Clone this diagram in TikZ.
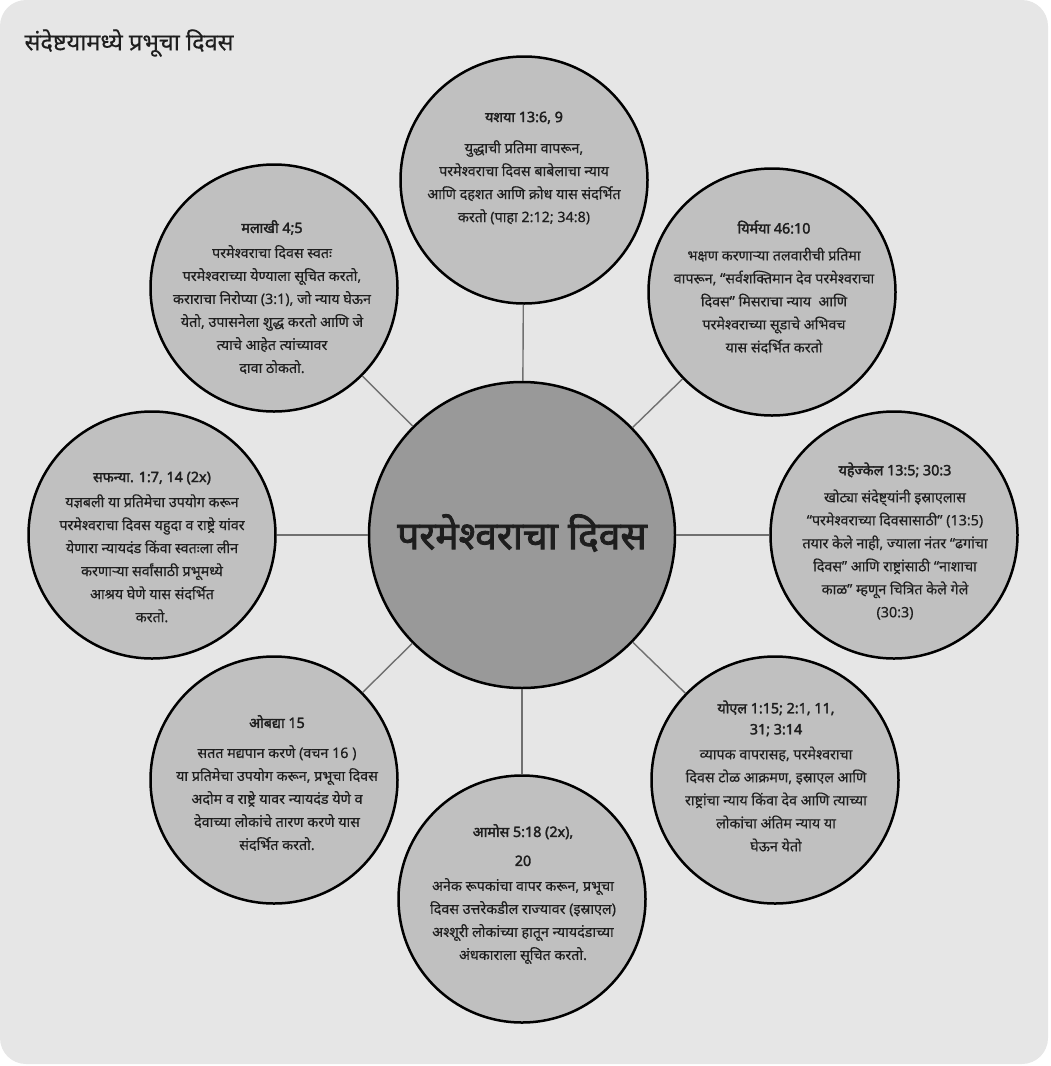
\documentclass[tikz,border=0pt]{standalone}
\usepackage{fontspec}
\setmainfont[Script=Devanagari, UprightFeatures={FakeBold=0.35}, BoldFont={Noto Sans}, BoldFeatures={FakeBold=2.2}]{Noto Sans}
\usetikzlibrary{positioning}

\definecolor{sfondo}{HTML}{E6E6E6}
\definecolor{grigiochiaro}{HTML}{C0C0C0}
\definecolor{grigioscuro}{HTML}{999999}
\definecolor{linea}{HTML}{707070}
\definecolor{inchiostro}{HTML}{1E1E1E}

\begin{document}
\begin{tikzpicture}[
    x=1pt, y=-1pt,
    font=\fontsize{14.3}{23}\selectfont,
    % Stili dei cerchi
    satellite/.style={circle, draw=black, line width=2.5pt, fill=grigiochiaro, minimum size=247pt, inner sep=0pt},
    nucleo/.style={circle, draw=black, line width=2.5pt, fill=grigioscuro, minimum size=306pt, inner sep=0pt},
    corpo/.style={align=center, text=inchiostro, inner sep=0pt},
    raggio/.style={draw=linea, line width=1.4pt}
  ]

  % Sfondo
  \useasboundingbox (0,0) rectangle (1050,1066);
  \fill[sfondo, rounded corners=26pt] (0,0) rectangle (1048,1064);

  % Titolo
  \node (titolo) [anchor=west, text=inchiostro, font=\fontsize{23.5}{26}\selectfont] at (21,43) {संदेष्टयामध्ये प्रभूचा दिवस};

  % Cerchi
  \node (centro) [nucleo] at (522,535) {};
  \node (isaia) [satellite] at (524,180) {};
  \node (geremia) [satellite] at (772,292) {};
  \node (ezechiele) [satellite] at (894,535) {};
  \node (gioele) [satellite] at (775,780) {};
  \node (amos) [satellite] at (522,899) {};
  \node (abdia) [satellite] at (274,780) {};
  \node (sofonia) [satellite] at (152,535) {};
  \node (malachia) [satellite] at (274,288) {};

  % Collegamenti
  \foreach \c in {isaia, geremia, ezechiele, gioele, amos, abdia, sofonia, malachia}
    \draw [raggio] (centro) -- (\c);

  % Testi
  \node (centro_t) [corpo, font=\bfseries\fontsize{39}{40}\selectfont] at (522,533) {परमेश्वराचा दिवस};

  \node (isaia_t) [corpo] at (524,168) {{\bfseries यशया 13:6, 9}\\[8pt]
    युद्धाची प्रतिमा वापरून,\\
    परमेश्वराचा दिवस बाबेलाचा न्याय\\
    आणि दहशत आणि क्रोध यास संदर्भित\\
    करतो (पाहा 2:12; 34:8)};

  \node (geremia_t) [corpo] at (774,287) {{\bfseries यिर्मया 46:10}\\[4pt]
    भक्षण करणाऱ्या तलवारीची प्रतिमा\\
    वापरून, “सर्वशक्तिमान देव परमेश्वराचा\\
    दिवस” मिसराचा न्याय\ \ आणि\\
    परमेश्वराच्या सूडाचे अभिवच\\
    यास संदर्भित करतो};

  \node (malachia_t) [corpo] at (272,297) {{\bfseries मलाखी 4;5}\\[2pt]
    परमेश्वराचा दिवस स्वतः\\
    परमेश्वराच्या येण्याला सूचित करतो,\\
    कराराचा निरोप्या (3:1), जो न्याय घेऊन\\
    येतो, उपासनेला शुद्ध करतो आणि जे\\
    त्याचे आहेत त्यांच्यावर\\
    दावा ठोकतो.};

  \node (sofonia_t) [corpo] at (152,547) {{\bfseries सफन्या. 1:7, 14 (2x)}\\[2pt]
    यज्ञबली या प्रतिमेचा उपयोग करून\\
    परमेश्वराचा दिवस यहुदा व राष्ट्रे यांवर\\
    येणारा न्यायदंड किंवा स्वतःला लीन\\
    करणाऱ्या सर्वांसाठी प्रभूमध्ये\\
    आश्रय घेणे यास संदर्भित\\
    करतो.};

  \node (ezechiele_t) [corpo] at (895,541) {{\bfseries यहेज्केल 13:5; 30:3}\\[4pt]
    खोट्या संदेष्ट्यांनी इस्राएलास\\
    “परमेश्वराच्या दिवसासाठी” (13:5)\\
    तयार केले नाही, ज्याला नंतर “ढगांचा\\
    दिवस” आणि राष्ट्रांसाठी “नाशाचा\\
    काळ” म्हणून चित्रित केले गेले\\
    (30:3)};

  \node (abdia_t) [corpo] at (277,783) {{\bfseries ओबद्या 15}\\[7pt]
    सतत मद्यपान करणे (वचन 16 )\\
    या प्रतिमेचा उपयोग करून, प्रभूचा दिवस\\
    अदोम व राष्ट्रे यावर न्यायदंड येणे व\\
    देवाच्या लोकांचे तारण करणे यास\\
    संदर्भित करतो.};

  \node (gioele_t) [corpo] at (776,776) {{\bfseries योएल 1:15; 2:1, 11,}\\[-2pt]
    {\bfseries 31; 3:14}\\[2pt]
    व्यापक वापरासह, परमेश्वराचा\\
    दिवस टोळ आक्रमण, इस्राएल आणि\\
    राष्ट्रांचा न्याय किंवा देव आणि त्याच्या\\
    लोकांचा अंतिम न्याय या\\
    घेऊन येतो};

  \node (amos_t) [corpo] at (523,894) {{\bfseries आमोस 5:18 (2x),}\\[6pt]
    {\bfseries 20}\\[2pt]
    अनेक रूपकांचा वापर करून, प्रभूचा\\
    दिवस उत्तरेकडील राज्यावर (इस्राएल)\\
    अश्शूरी लोकांच्या हातून न्यायदंडाच्या\\
    अंधकाराला सूचित करतो.};

\end{tikzpicture}
\end{document}
